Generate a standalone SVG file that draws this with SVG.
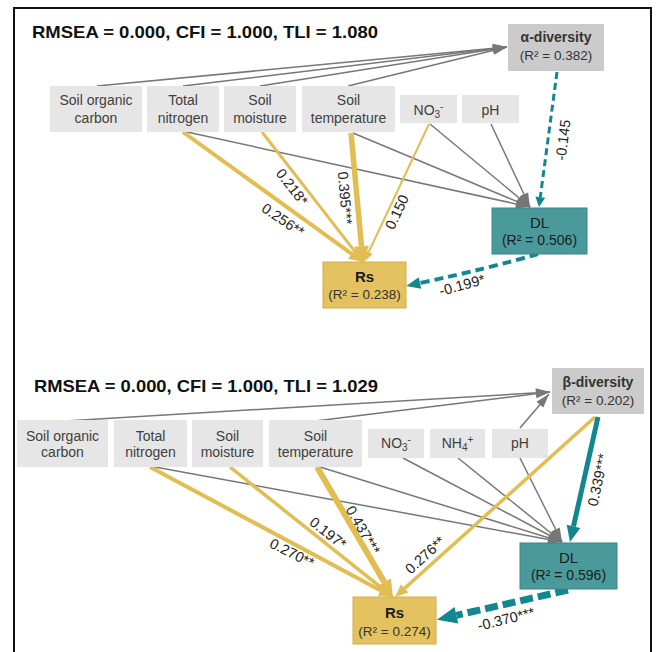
<svg xmlns="http://www.w3.org/2000/svg" width="656" height="652" viewBox="0 0 656 652">
<style>
.box{fill:#e6e6e6}
.dbox{fill:#cbcbcb}
.dl{fill:#4a9a9c;stroke:#3a8587;stroke-width:1}
.rs{fill:#e4c25f;stroke:#d4ae45;stroke-width:1}
text{font-family:"Liberation Sans",Arial,sans-serif}
.lbl{font-size:14px;fill:#404040;text-anchor:middle}
.hd{font-size:14px;font-weight:bold;fill:#333;text-anchor:middle}
.r2{font-size:13.5px;fill:#333;text-anchor:middle}
.dlt{font-size:15px;fill:#1c1c1c;text-anchor:middle}
.dlr{font-size:14px;fill:#1c1c1c;text-anchor:middle}
.rst{font-size:15px;font-weight:bold;fill:#1c1c1c;text-anchor:middle}
.coef{font-size:14.5px;fill:#222;text-anchor:middle}
.title{font-size:17px;font-weight:bold;fill:#111}
.g{stroke:#777;stroke-width:1.5;fill:none}
.y{stroke:#e2bd52;fill:none}
.t{stroke:#12878f;fill:none}
</style>
<defs>
<marker id="mg" markerUnits="userSpaceOnUse" markerWidth="14" markerHeight="9" refX="14" refY="4.5" orient="auto" overflow="visible"><path d="M0,0 L14,4.5 L0,9 z" fill="#777"/></marker>
<marker id="yS" markerUnits="userSpaceOnUse" markerWidth="11" markerHeight="9" refX="0" refY="4.5" orient="auto" overflow="visible"><path d="M0,0 L11,4.5 L0,9 z" fill="#e2bd52"/></marker>
<marker id="yM" markerUnits="userSpaceOnUse" markerWidth="13" markerHeight="11" refX="0" refY="5.5" orient="auto" overflow="visible"><path d="M0,0 L13,5.5 L0,11 z" fill="#e2bd52"/></marker>
<marker id="yL" markerUnits="userSpaceOnUse" markerWidth="14" markerHeight="12" refX="0" refY="6" orient="auto" overflow="visible"><path d="M0,0 L14,6 L0,12 z" fill="#e2bd52"/></marker>
<marker id="yXL" markerUnits="userSpaceOnUse" markerWidth="17" markerHeight="15" refX="0" refY="7.5" orient="auto" overflow="visible"><path d="M0,0 L17,7.5 L0,15 z" fill="#e2bd52"/></marker>
<marker id="tS" markerUnits="userSpaceOnUse" markerWidth="10" markerHeight="10" refX="0" refY="5" orient="auto" overflow="visible"><path d="M0,0 L10,5 L0,10 z" fill="#12878f"/></marker>
<marker id="tM" markerUnits="userSpaceOnUse" markerWidth="14" markerHeight="12" refX="0" refY="6" orient="auto" overflow="visible"><path d="M0,0 L14,6 L0,12 z" fill="#12878f"/></marker>
<marker id="tL" markerUnits="userSpaceOnUse" markerWidth="16" markerHeight="14" refX="0" refY="7" orient="auto" overflow="visible"><path d="M0,0 L16,7 L0,14 z" fill="#12878f"/></marker>
<marker id="tXL" markerUnits="userSpaceOnUse" markerWidth="20" markerHeight="17" refX="0" refY="8.5" orient="auto" overflow="visible"><path d="M0,0 L20,8.5 L0,17 z" fill="#12878f"/></marker>
</defs>
<rect x="0" y="0" width="656" height="652" fill="#fff"/>
<rect x="14" y="8" width="637" height="660" fill="none" stroke="#111" stroke-width="2"/>

<text class="title" x="32" y="38" textLength="346" lengthAdjust="spacingAndGlyphs">RMSEA = 0.000, CFI = 1.000, TLI = 1.080</text>
<text class="title" x="34" y="392" textLength="344" lengthAdjust="spacingAndGlyphs">RMSEA = 0.000, CFI = 1.000, TLI = 1.029</text>

<g id="connectors">
<line class="g" x1="97" y1="86" x2="507" y2="47" marker-end="url(#mg)"/>
<line class="g" x1="183" y1="86" x2="507" y2="47" marker-end="url(#mg)"/>
<line class="g" x1="260" y1="86" x2="507" y2="47" marker-end="url(#mg)"/>
<line class="g" x1="348" y1="86" x2="507" y2="47" marker-end="url(#mg)"/>
<line class="g" x1="187" y1="132" x2="530" y2="207" marker-end="url(#mg)"/>
<line class="g" x1="353" y1="133" x2="530" y2="207" marker-end="url(#mg)"/>
<line class="g" x1="430" y1="124" x2="530" y2="207" marker-end="url(#mg)"/>
<line class="g" x1="491" y1="124" x2="530" y2="207" marker-end="url(#mg)"/>
<line class="y" stroke-width="4" x1="183" y1="132" x2="351.7" y2="253.8" marker-end="url(#yL)"/>
<line class="y" stroke-width="3" x1="262" y1="132" x2="355" y2="251.7" marker-end="url(#yM)"/>
<line class="y" stroke-width="5.5" x1="351" y1="133" x2="361.5" y2="246.1" marker-end="url(#yXL)"/>
<line class="y" stroke-width="2" x1="429" y1="124" x2="368.7" y2="252" marker-end="url(#yS)"/>
<line class="t" stroke-width="3" stroke-dasharray="7 4" x1="557" y1="72" x2="540.3" y2="197.1" marker-end="url(#tS)"/>
<path class="t" stroke-width="4" stroke-dasharray="9 5" d="M538,254 Q490,268 420,283" marker-end="url(#tM)"/>

<line class="g" x1="65" y1="421" x2="550" y2="392" marker-end="url(#mg)"/>
<line class="g" x1="315" y1="421" x2="550" y2="392" marker-end="url(#mg)"/>
<line class="g" x1="520" y1="428" x2="549" y2="394" marker-end="url(#mg)"/>
<line class="g" x1="155" y1="467" x2="562" y2="542" marker-end="url(#mg)"/>
<line class="g" x1="320" y1="467" x2="562" y2="542" marker-end="url(#mg)"/>
<line class="g" x1="403" y1="458" x2="562" y2="542" marker-end="url(#mg)"/>
<line class="g" x1="458" y1="458" x2="562" y2="542" marker-end="url(#mg)"/>
<line class="g" x1="520" y1="458" x2="562" y2="542" marker-end="url(#mg)"/>
<line class="y" stroke-width="4" x1="150" y1="467" x2="380.7" y2="590.4" marker-end="url(#yL)"/>
<line class="y" stroke-width="3.5" x1="230" y1="467" x2="382.8" y2="588.9" marker-end="url(#yM)"/>
<line class="y" stroke-width="6" x1="317" y1="467" x2="384.4" y2="582.3" marker-end="url(#yXL)"/>
<line class="y" stroke-width="3.5" x1="595" y1="417" x2="404.7" y2="588.3" marker-end="url(#yM)"/>
<line class="t" stroke-width="5" x1="598" y1="417" x2="573.5" y2="526.4" marker-end="url(#tL)"/>
<line class="t" stroke-width="7" stroke-dasharray="13 5" x1="568" y1="590" x2="456.4" y2="615.3" marker-end="url(#tXL)"/>

<text class="coef" transform="translate(283,220) rotate(34)" y="5">0.256**</text>
<text class="coef" transform="translate(292,187) rotate(52)" y="5">0.218*</text>
<text class="coef" transform="translate(345,198) rotate(85)" y="5">0.395***</text>
<text class="coef" transform="translate(397,212) rotate(-65)" y="5">0.150</text>
<text class="coef" transform="translate(563,140) rotate(-83)" y="5">-0.145</text>
<text class="coef" transform="translate(462,285) rotate(-15)" y="5">-0.199*</text>
<text class="coef" transform="translate(292,553) rotate(27)" y="5">0.270**</text>
<text class="coef" transform="translate(328,533) rotate(38)" y="5">0.197*</text>
<text class="coef" transform="translate(363,530) rotate(60)" y="5">0.437***</text>
<text class="coef" transform="translate(425,555) rotate(-42)" y="5">0.276**</text>
<text class="coef" transform="translate(598,480) rotate(-78)" y="5">0.339***</text>
<text class="coef" transform="translate(506,619) rotate(-14)" y="5">-0.370***</text>
</g>

<g id="alpha"><rect class="dbox" x="508" y="24" width="96" height="47"/><text class="hd" x="556" y="42">α-diversity</text><text class="r2" x="556" y="60">(R² = 0.382)</text></g>
<g id="soc1"><rect class="box" x="50" y="86" width="92" height="46"/><text class="lbl" x="96" y="105">Soil organic</text><text class="lbl" x="96" y="123">carbon</text></g>
<g id="tn1"><rect class="box" x="147" y="86" width="72" height="46"/><text class="lbl" x="183" y="105">Total</text><text class="lbl" x="183" y="123">nitrogen</text></g>
<g id="sm1"><rect class="box" x="224" y="86" width="72" height="46"/><text class="lbl" x="260" y="105">Soil</text><text class="lbl" x="260" y="123">moisture</text></g>
<g id="st1"><rect class="box" x="302" y="86" width="93" height="46"/><text class="lbl" x="348.5" y="105">Soil</text><text class="lbl" x="348.5" y="123">temperature</text></g>
<g id="no31"><rect class="box" x="400" y="95" width="57" height="28"/><text class="lbl" x="428.5" y="115">NO<tspan font-size="10" dy="3">3</tspan><tspan font-size="10" dy="-8">-</tspan></text></g>
<g id="ph1"><rect class="box" x="462" y="95" width="57" height="28"/><text class="lbl" x="490.5" y="115">pH</text></g>
<g id="dl1"><rect class="dl" x="492" y="208" width="95" height="46"/><text class="dlt" x="539.5" y="228">DL</text><text class="dlr" x="539.5" y="245">(R² = 0.506)</text></g>
<g id="rs1"><rect class="rs" x="323" y="262" width="83" height="46"/><text class="rst" x="364.5" y="282">Rs</text><text class="r2" x="364.5" y="299">(R² = 0.238)</text></g>

<g id="beta"><rect class="dbox" x="552" y="368" width="92" height="46"/><text class="hd" x="598" y="387">β-diversity</text><text class="r2" x="598" y="405">(R² = 0.202)</text></g>
<g id="soc2"><rect class="box" x="17" y="420" width="91" height="47"/><text class="lbl" x="62.5" y="441">Soil organic</text><text class="lbl" x="62.5" y="457">carbon</text></g>
<g id="tn2"><rect class="box" x="114" y="420" width="73" height="47"/><text class="lbl" x="150.5" y="441">Total</text><text class="lbl" x="150.5" y="457">nitrogen</text></g>
<g id="sm2"><rect class="box" x="192" y="420" width="71" height="47"/><text class="lbl" x="227.5" y="441">Soil</text><text class="lbl" x="227.5" y="457">moisture</text></g>
<g id="st2"><rect class="box" x="269" y="420" width="93" height="47"/><text class="lbl" x="315.5" y="441">Soil</text><text class="lbl" x="315.5" y="457">temperature</text></g>
<g id="no32"><rect class="box" x="368" y="429" width="56" height="29"/><text class="lbl" x="396" y="448">NO<tspan font-size="10" dy="3">3</tspan><tspan font-size="10" dy="-8">-</tspan></text></g>
<g id="nh42"><rect class="box" x="430" y="429" width="55" height="29"/><text class="lbl" x="457.5" y="448">NH<tspan font-size="10" dy="3">4</tspan><tspan font-size="10" dy="-8">+</tspan></text></g>
<g id="ph2"><rect class="box" x="492" y="429" width="56" height="29"/><text class="lbl" x="520" y="448">pH</text></g>
<g id="dl2"><rect class="dl" x="520" y="543" width="97" height="46"/><text class="dlt" x="568.5" y="563">DL</text><text class="dlr" x="568.5" y="580">(R² = 0.596)</text></g>
<g id="rs2"><rect class="rs" x="353" y="597" width="83" height="47"/><text class="rst" x="394.5" y="618">Rs</text><text class="r2" x="394.5" y="636">(R² = 0.274)</text></g>
</svg>
